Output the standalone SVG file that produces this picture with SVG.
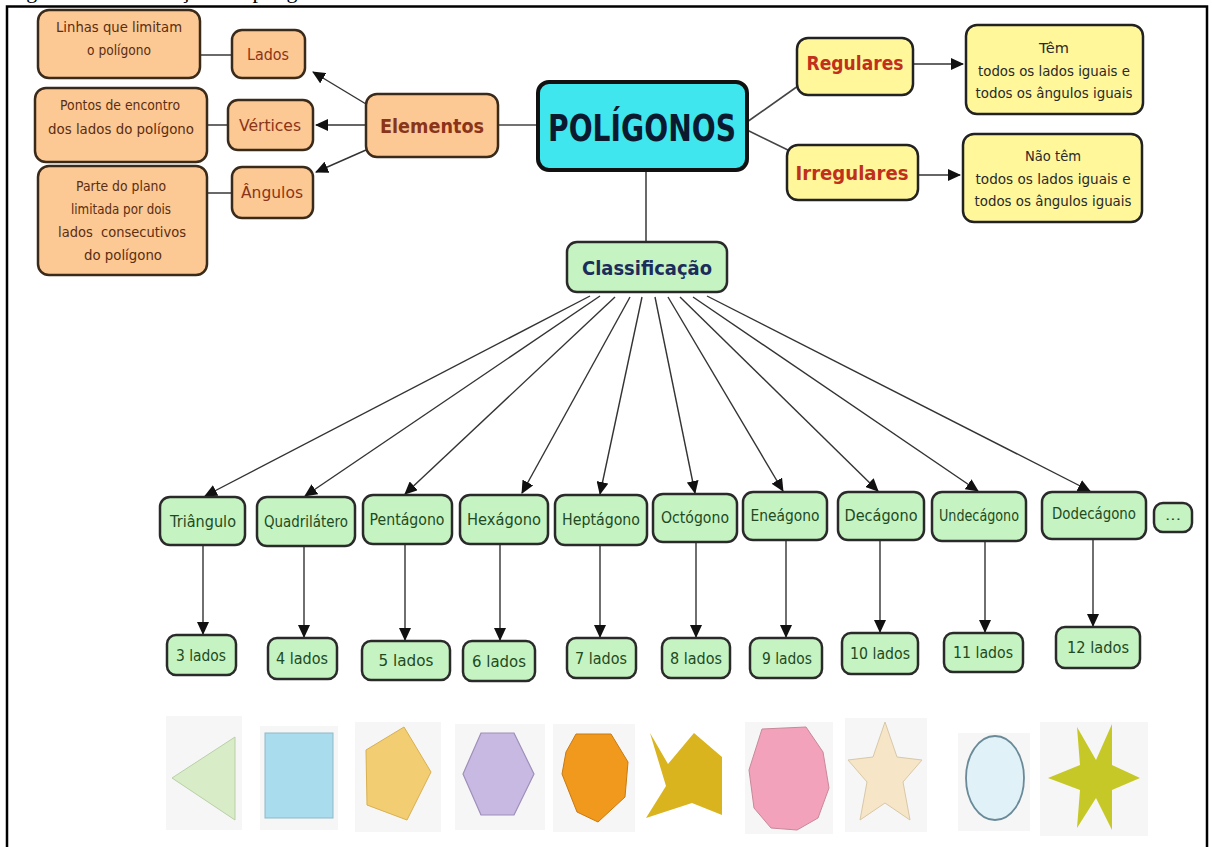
<svg xmlns="http://www.w3.org/2000/svg" width="1212" height="847" viewBox="0 0 1212 847">
<style>
text{font-family:"DejaVu Sans","Liberation Sans",sans-serif;text-anchor:middle}
.or{fill:#fcc894;stroke:#3a2a1a;stroke-width:2.5}
.ye{fill:#fff79a;stroke:#222;stroke-width:2.5}
.gr{fill:#c6f3c2;stroke:#2a2a2a;stroke-width:2.5}
.cy{fill:#3fe6ee;stroke:#111;stroke-width:4}
.ts{font-size:14px;fill:#5a2e12}
.tb{font-size:16px;fill:#8a3418}
.tg{font-size:15px;fill:#224a22}
.ty{font-size:14px;fill:#2a2a2a}
.bold{font-weight:bold}
.ln{stroke:#444;stroke-width:1.6;fill:none}
.lnm{stroke:#333;stroke-width:1.4;fill:none;marker-end:url(#ah)}
.tile{fill:#f6f6f6}
</style>
<defs>
<marker id="ah" markerUnits="userSpaceOnUse" markerWidth="13" markerHeight="12" refX="12" refY="6" orient="auto">
<path d="M0,0 L13,6 L0,12 z" fill="#111"/>
</marker>
</defs>
<rect width="1212" height="847" fill="#fff"/>
<text x="8" y="-2" style="font-family:'Liberation Serif',serif;font-size:22px;text-anchor:start;fill:#000">Figura 1: Classificação dos polígonos</text>
<rect x="7" y="6.5" width="1200" height="860" fill="none" stroke="#000" stroke-width="2.5"/>

<g id="connectors">
<line class="ln" x1="200" y1="55" x2="232" y2="55"/>
<line class="ln" x1="207" y1="125" x2="228" y2="125"/>
<line class="ln" x1="207" y1="193" x2="232" y2="193"/>
<line class="lnm" x1="366" y1="104" x2="313" y2="72"/>
<line class="lnm" x1="366" y1="125" x2="316" y2="125"/>
<line class="lnm" x1="366" y1="150" x2="316" y2="172"/>
<line class="ln" x1="498" y1="125" x2="538" y2="125"/>
<line class="ln" x1="747" y1="122" x2="798" y2="86"/>
<line class="ln" x1="747" y1="130" x2="792" y2="152"/>
<line class="lnm" x1="913" y1="64" x2="963" y2="64"/>
<line class="lnm" x1="918" y1="175" x2="960" y2="175"/>
<line class="ln" x1="646" y1="170" x2="646" y2="242"/>
<line class="lnm" x1="590" y1="296" x2="205" y2="496"/>
<line class="lnm" x1="600" y1="296" x2="305" y2="496"/>
<line class="lnm" x1="615" y1="297" x2="405" y2="494"/>
<line class="lnm" x1="630" y1="297" x2="522" y2="493"/>
<line class="lnm" x1="642" y1="297" x2="600" y2="494"/>
<line class="lnm" x1="655" y1="297" x2="695" y2="493"/>
<line class="lnm" x1="668" y1="297" x2="783" y2="491"/>
<line class="lnm" x1="680" y1="297" x2="878" y2="491"/>
<line class="lnm" x1="693" y1="297" x2="978" y2="491"/>
<line class="lnm" x1="707" y1="296" x2="1090" y2="491"/>
<line class="lnm" x1="203" y1="545" x2="203" y2="634"/>
<line class="lnm" x1="304" y1="546" x2="304" y2="637"/>
<line class="lnm" x1="405" y1="544" x2="405" y2="640"/>
<line class="lnm" x1="500" y1="544" x2="500" y2="640"/>
<line class="lnm" x1="600" y1="545" x2="600" y2="637"/>
<line class="lnm" x1="696" y1="542" x2="696" y2="637"/>
<line class="lnm" x1="786" y1="540" x2="786" y2="637"/>
<line class="lnm" x1="880" y1="540" x2="880" y2="632"/>
<line class="lnm" x1="985" y1="541" x2="985" y2="632"/>
<line class="lnm" x1="1093" y1="539" x2="1093" y2="626"/>
</g>

<g id="linhas"><rect class="or" x="38" y="10" width="162" height="68" rx="11"/>
<text class="ts" x="119" y="32" textLength="126" lengthAdjust="spacingAndGlyphs">Linhas que limitam</text>
<text class="ts" x="119" y="55" textLength="64" lengthAdjust="spacingAndGlyphs">o polígono</text></g>
<g id="lados"><rect class="or" x="232" y="30" width="73" height="48" rx="10"/>
<text class="tb" x="268" y="60" textLength="42" lengthAdjust="spacingAndGlyphs">Lados</text></g>
<g id="pontos"><rect class="or" x="35" y="88" width="172" height="74" rx="11"/>
<text class="ts" x="120" y="110" textLength="120" lengthAdjust="spacingAndGlyphs">Pontos de encontro</text>
<text class="ts" x="121" y="134" textLength="146" lengthAdjust="spacingAndGlyphs">dos lados do polígono</text></g>
<g id="vertices"><rect class="or" x="228" y="100" width="85" height="50" rx="10"/>
<text class="tb" x="270" y="131" textLength="62" lengthAdjust="spacingAndGlyphs">Vértices</text></g>
<g id="parte"><rect class="or" x="38" y="166" width="169" height="109" rx="11"/>
<text class="ts" x="121" y="191" textLength="90" lengthAdjust="spacingAndGlyphs">Parte do plano</text>
<text class="ts" x="121" y="214" textLength="100" lengthAdjust="spacingAndGlyphs">limitada por dois</text>
<text class="ts" x="122" y="237" textLength="128" lengthAdjust="spacingAndGlyphs" xml:space="preserve">lados  consecutivos</text>
<text class="ts" x="123" y="260" textLength="78" lengthAdjust="spacingAndGlyphs">do polígono</text></g>
<g id="angulos"><rect class="or" x="232" y="167" width="81" height="51" rx="10"/>
<text class="tb" x="272" y="198" textLength="62" lengthAdjust="spacingAndGlyphs">Ângulos</text></g>
<g id="elementos"><rect class="or" x="366" y="94" width="132" height="63" rx="11"/>
<text class="tb bold" x="432" y="133" style="font-size:20px" textLength="104" lengthAdjust="spacingAndGlyphs">Elementos</text></g>

<g id="poligonos"><rect class="cy" x="538" y="82" width="209" height="88" rx="11"/>
<text class="bold" x="642" y="141" style="font-size:38px;fill:#0c1a30" textLength="188" lengthAdjust="spacingAndGlyphs">POLÍGONOS</text></g>

<g id="regulares"><rect class="ye" x="797" y="38" width="116" height="57" rx="11"/>
<text class="bold" x="855" y="70" style="font-size:20px;fill:#c0301c" textLength="97" lengthAdjust="spacingAndGlyphs">Regulares</text></g>
<g id="tem"><rect class="ye" x="966" y="25" width="177" height="89" rx="11"/>
<text class="ty" x="1054" y="53" textLength="30" lengthAdjust="spacingAndGlyphs">Têm</text>
<text class="ty" x="1054" y="76" textLength="152" lengthAdjust="spacingAndGlyphs">todos os lados iguais e</text>
<text class="ty" x="1054" y="98" textLength="157" lengthAdjust="spacingAndGlyphs">todos os ângulos iguais</text></g>
<g id="irregulares"><rect class="ye" x="787" y="145" width="131" height="55" rx="11"/>
<text class="bold" x="852" y="180" style="font-size:20px;fill:#c0301c" textLength="113" lengthAdjust="spacingAndGlyphs">Irregulares</text></g>
<g id="naotem"><rect class="ye" x="963" y="134" width="179" height="88" rx="11"/>
<text class="ty" x="1053" y="161" textLength="56" lengthAdjust="spacingAndGlyphs">Não têm</text>
<text class="ty" x="1053" y="184" textLength="155" lengthAdjust="spacingAndGlyphs">todos os lados iguais e</text>
<text class="ty" x="1053" y="206" textLength="157" lengthAdjust="spacingAndGlyphs">todos os ângulos iguais</text></g>

<g id="classificacao"><rect class="gr" x="567" y="242" width="160" height="50" rx="10"/>
<text class="bold" x="647" y="275" style="font-size:20px;fill:#1b2d5b" textLength="130" lengthAdjust="spacingAndGlyphs">Classificação</text></g>

<g id="triangulo"><rect class="gr" x="160" y="497" width="85" height="48" rx="10"/><text class="tg" x="203" y="527" textLength="66" lengthAdjust="spacingAndGlyphs">Triângulo</text></g>
<g id="quadrilatero"><rect class="gr" x="257" y="497" width="98" height="49" rx="10"/><text class="tg" x="306" y="527" textLength="84" lengthAdjust="spacingAndGlyphs">Quadrilátero</text></g>
<g id="pentagono"><rect class="gr" x="363" y="495" width="89" height="49" rx="10"/><text class="tg" x="407" y="525" textLength="75" lengthAdjust="spacingAndGlyphs">Pentágono</text></g>
<g id="hexagono"><rect class="gr" x="460" y="495" width="88" height="49" rx="10"/><text class="tg" x="504" y="525" textLength="74" lengthAdjust="spacingAndGlyphs">Hexágono</text></g>
<g id="heptagono"><rect class="gr" x="555" y="495" width="92" height="50" rx="10"/><text class="tg" x="601" y="525" textLength="78" lengthAdjust="spacingAndGlyphs">Heptágono</text></g>
<g id="octogono"><rect class="gr" x="653" y="494" width="84" height="48" rx="10"/><text class="tg" x="695" y="523" textLength="68" lengthAdjust="spacingAndGlyphs">Octógono</text></g>
<g id="eneagono"><rect class="gr" x="743" y="492" width="84" height="48" rx="10"/><text class="tg" x="785" y="521" textLength="69" lengthAdjust="spacingAndGlyphs">Eneágono</text></g>
<g id="decagono"><rect class="gr" x="838" y="492" width="86" height="48" rx="10"/><text class="tg" x="881" y="521" textLength="73" lengthAdjust="spacingAndGlyphs">Decágono</text></g>
<g id="undecagono"><rect class="gr" x="932" y="492" width="94" height="49" rx="10"/><text class="tg" x="979" y="521" textLength="80" lengthAdjust="spacingAndGlyphs">Undecágono</text></g>
<g id="dodecagono"><rect class="gr" x="1042" y="492" width="104" height="47" rx="10"/><text class="tg" x="1094" y="519" textLength="84" lengthAdjust="spacingAndGlyphs">Dodecágono</text></g>
<g id="etc"><rect class="gr" x="1154" y="503" width="38" height="29" rx="9"/><text class="tg" x="1173" y="520" style="font-size:12px" textLength="16" lengthAdjust="spacingAndGlyphs">...</text></g>

<g id="l3"><rect class="gr" x="167" y="635" width="69" height="40" rx="9"/><text class="tg" x="201" y="661" textLength="50" lengthAdjust="spacingAndGlyphs">3 lados</text></g>
<g id="l4"><rect class="gr" x="268" y="638" width="69" height="41" rx="9"/><text class="tg" x="302" y="664" textLength="52" lengthAdjust="spacingAndGlyphs">4 lados</text></g>
<g id="l5"><rect class="gr" x="362" y="641" width="88" height="39" rx="9"/><text class="tg" x="406" y="666" textLength="55" lengthAdjust="spacingAndGlyphs">5 lados</text></g>
<g id="l6"><rect class="gr" x="463" y="641" width="72" height="40" rx="9"/><text class="tg" x="499" y="667" textLength="54" lengthAdjust="spacingAndGlyphs">6 lados</text></g>
<g id="l7"><rect class="gr" x="567" y="638" width="69" height="40" rx="9"/><text class="tg" x="601" y="664" textLength="52" lengthAdjust="spacingAndGlyphs">7 lados</text></g>
<g id="l8"><rect class="gr" x="662" y="638" width="68" height="40" rx="9"/><text class="tg" x="696" y="664" textLength="52" lengthAdjust="spacingAndGlyphs">8 lados</text></g>
<g id="l9"><rect class="gr" x="750" y="638" width="72" height="40" rx="9"/><text class="tg" x="787" y="664" textLength="50" lengthAdjust="spacingAndGlyphs">9 lados</text></g>
<g id="l10"><rect class="gr" x="842" y="633" width="76" height="41" rx="9"/><text class="tg" x="880" y="659" textLength="60" lengthAdjust="spacingAndGlyphs">10 lados</text></g>
<g id="l11"><rect class="gr" x="944" y="633" width="79" height="39" rx="9"/><text class="tg" x="983" y="658" textLength="60" lengthAdjust="spacingAndGlyphs">11 lados</text></g>
<g id="l12"><rect class="gr" x="1056" y="627" width="84" height="41" rx="9"/><text class="tg" x="1098" y="653" textLength="62" lengthAdjust="spacingAndGlyphs">12 lados</text></g>

<g id="shapes">
<rect class="tile" x="166" y="716" width="76" height="114"/>
<rect class="tile" x="260" y="726" width="78" height="104"/>
<rect class="tile" x="355" y="722" width="86" height="110"/>
<rect class="tile" x="455" y="724" width="90" height="106"/>
<rect class="tile" x="553" y="724" width="82" height="108"/>
<rect class="tile" x="745" y="722" width="88" height="112"/>
<rect class="tile" x="845" y="718" width="82" height="114"/>
<rect class="tile" x="958" y="733" width="72" height="98"/>
<rect class="tile" x="1040" y="722" width="108" height="114"/>
<polygon points="172,778 235,737 235,820" fill="#d9ecc8" stroke="#b8d0a8" stroke-width="1"/>
<rect x="265" y="733" width="68" height="85" fill="#a9dced" stroke="#8fb8c8" stroke-width="1"/>
<polygon points="366,750 404,727 431,772 407,820 367,805" fill="#f3cd72" stroke="#d8b050" stroke-width="1"/>
<polygon points="481,733 514,733 534,774 514,815 481,815 463,774" fill="#c8b9e2" stroke="#9e8fb8" stroke-width="1.2"/>
<polygon points="576,734 611,734 628,762 625,797 598,822 577,812 562,774 566,752" fill="#f0991c" stroke="#c87a10" stroke-width="1"/>
<polygon points="650,733 668,764 694,733 722,757 722,815 692,803 646,818 666,786" fill="#d9b41e"/>
<polygon points="762,729 806,727 823,752 829,788 818,818 797,830 771,828 754,808 749,770" fill="#f2a3bb" stroke="#c8889a" stroke-width="1"/>
<polygon points="885,722 897,757 922,760 903,782 910,820 885,803 860,820 867,782 848,760 873,757" fill="#f6e5c6" stroke="#d8c8a8" stroke-width="1"/>
<ellipse cx="995" cy="778" rx="29" ry="42" fill="#e0f1f8" stroke="#6a8a98" stroke-width="1.8"/>
<polygon points="1077,727 1096,760 1112,724 1112,765 1140,778 1112,790 1112,830 1096,798 1077,828 1080,790 1048,778 1080,765" fill="#c6c828"/>
</g>
</svg>
